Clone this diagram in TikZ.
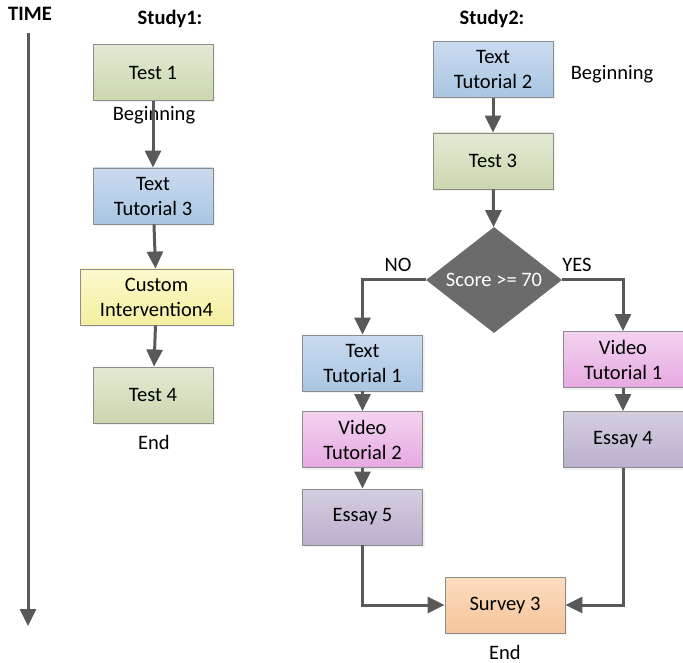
\documentclass[tikz,border=0pt]{standalone}
\usepackage{fontspec}
\setmainfont{Carlito}
\usetikzlibrary{arrows.meta,positioning,shapes.geometric,shadows}

\definecolor{boxline}{HTML}{8C8C8C}
\definecolor{flowline}{HTML}{595959}
\definecolor{greentop}{HTML}{E2EAD3}
\definecolor{greenbot}{HTML}{CBD7AE}
\definecolor{bluetop}{HTML}{CADBEF}
\definecolor{bluebot}{HTML}{A9C5E2}
\definecolor{yellowtop}{HTML}{FBF9CC}
\definecolor{yellowbot}{HTML}{F5EF9F}
\definecolor{pinktop}{HTML}{F3D3F0}
\definecolor{pinkbot}{HTML}{E6A9E1}
\definecolor{purpletop}{HTML}{D5CDE0}
\definecolor{purplebot}{HTML}{BBB0CE}
\definecolor{orangetop}{HTML}{FCDCC0}
\definecolor{orangebot}{HTML}{F6C59A}
\definecolor{decisionfill}{HTML}{6B6B6B}

\newcommand{\boxfont}{\fontsize{20.5}{25}\selectfont}

\begin{document}
\begin{tikzpicture}[x=1pt,y=1pt]
\tikzset{
  flowbox/.style={rectangle,draw=boxline,line width=0.9pt,minimum width=120pt,minimum height=56pt,
    inner sep=1pt,align=center,font=\boxfont,
    drop shadow={opacity=0.12,shadow xshift=2pt,shadow yshift=-2pt}},
  testbox/.style={flowbox,top color=greentop,bottom color=greenbot},
  tutorbox/.style={flowbox,top color=bluetop,bottom color=bluebot},
  custombox/.style={flowbox,top color=yellowtop,bottom color=yellowbot,minimum width=153pt},
  videobox/.style={flowbox,top color=pinktop,bottom color=pinkbot},
  essaybox/.style={flowbox,top color=purpletop,bottom color=purplebot},
  surveybox/.style={flowbox,top color=orangetop,bottom color=orangebot},
  decision/.style={diamond,aspect=1.28,fill=decisionfill,minimum width=136pt,minimum height=106pt,
    inner sep=0pt,text=white,font=\boxfont},
  note/.style={inner sep=0pt,font=\boxfont},
  heading/.style={inner sep=0pt,font=\boxfont\bfseries},
  flow/.style={-{Triangle[length=17pt,width=16pt]},line width=3pt,draw=flowline,color=flowline}
}
\useasboundingbox (0,0) rectangle (683,-663);

% time axis
\node[heading] (time) at (30,-14) {TIME};
\coordinate (t_top) at (28,-33);
\coordinate (t_bot) at (28,-626);
\draw[flow] (t_top) -- (t_bot);

% study 1
\node[heading] (study1) at (170,-19) {Study1:};
\node[testbox] (s1_test1) at (153,-72.5) {Test 1};
\node[note] (s1_begin) at (154,-115) {Beginning};
\node[tutorbox] (s1_tut3) at (153,-196) {Text\\Tutorial 3};
\node[custombox] (s1_custom) at (156.5,-297) {Custom\\Intervention4};
\node[testbox] (s1_test4) at (153,-395) {Test 4};
\node[note] (s1_end) at (154,-442) {End};
\draw[flow] (s1_test1) -- (s1_tut3);
\draw[flow] (s1_tut3) -- (s1_custom);
\draw[flow] (s1_custom) -- (s1_test4);

% study 2
\node[heading] (study2) at (492,-19) {Study2:};
\node[tutorbox] (s2_tut2) at (493,-69.5) {Text\\Tutorial 2};
\node[note] (s2_begin) at (612,-74) {Beginning};
\node[testbox] (s2_test3) at (493,-161) {Test 3};
\node[decision] (s2_score) at (494,-280) {Score >= 70};
\node[note] (s2_no) at (398,-265) {NO};
\node[note] (s2_yes) at (577,-265) {YES};
\node[tutorbox] (s2_tut1) at (362.5,-363) {Text\\Tutorial 1};
\node[videobox] (s2_vid2) at (362.5,-439.5) {Video\\Tutorial 2};
\node[essaybox] (s2_essay5) at (362.5,-517) {Essay 5};
\node[videobox] (s2_vid1) at (623,-359.5) {Video\\Tutorial 1};
\node[essaybox] (s2_essay4) at (623,-439.5) {Essay 4};
\node[surveybox] (s2_survey) at (505,-605) {Survey 3};
\node[note] (s2_end) at (505,-652) {End};
\draw[flow] (s2_tut2) -- (s2_test3);
\draw[flow] (s2_test3) -- (s2_score);
\draw[flow] (s2_score.west) -| (s2_tut1.north);
\draw[flow] (s2_score.east) -| (s2_vid1.north);
\draw[flow] (s2_tut1) -- (s2_vid2);
\draw[flow] (s2_vid2) -- (s2_essay5);
\draw[flow] (s2_vid1) -- (s2_essay4);
\draw[flow] (s2_essay5.south) |- (s2_survey.west);
\draw[flow] (s2_essay4.south) |- (s2_survey.east);
\end{tikzpicture}
\end{document}
